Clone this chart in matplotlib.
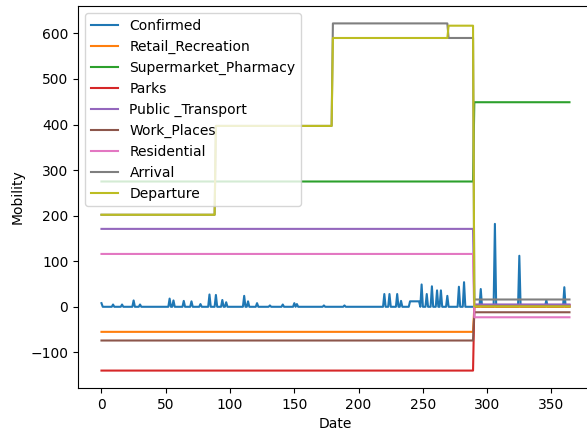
import matplotlib
matplotlib.use("Agg")
import matplotlib.pyplot as plt

N_DAYS = 365

# segment start days for the step-like mobility series
seg_starts = [0, 89, 180, 270, 290]

# one value per segment
mobility = {
    "Retail_Recreation": [-55, -55, -55, -55, 0],
    "Supermarket_Pharmacy": [275, 275, 275, 275, 449],
    "Parks": [-140, -140, -140, -140, 4],
    "Public _Transport": [171, 171, 171, 171, 5],
    "Work_Places": [-74, -74, -74, -74, -12],
    "Residential": [116, 116, 116, 116, -23],
    "Arrival": [202, 397, 622, 590, 16],
    "Departure": [202, 397, 590, 617, 1],
}

# confirmed cases: mostly zero with spikes on some days
spike_days = [0, 9, 16, 25, 30, 53, 56, 64, 70, 77, 84, 89, 94, 97, 111, 114,
              121, 131, 141, 150, 152, 173, 189, 220, 224, 230, 233, 240, 241,
              242, 243, 244, 245, 246, 247, 249, 253, 257, 261, 264, 269, 278,
              282, 295, 306, 325, 346, 360]
spike_vals = [8, 5, 5, 14, 5, 18, 14, 13, 12, 6, 27, 26, 15, 10, 24, 12,
              8, 3, 5, 8, 6, 3, 3, 28, 28, 28, 13, 12, 12,
              12, 12, 12, 12, 12, 12, 49, 28, 45, 36, 36, 24, 44,
              54, 39, 182, 112, 15, 43]

days = list(range(N_DAYS))

confirmed = [0] * N_DAYS
for d, v in zip(spike_days, spike_vals):
    confirmed[d] = v


def expand(values):
    out = []
    for d in days:
        idx = 0
        for i, s in enumerate(seg_starts):
            if d >= s:
                idx = i
        out.append(values[idx])
    return out


fig = plt.figure(figsize=(5.87, 4.32), dpi=100)
ax = fig.add_axes([0.133, 0.102, 0.877, 0.884])

ax.plot(days, confirmed, label="Confirmed")
for name, vals in mobility.items():
    ax.plot(days, expand(vals), label=name)

ax.set_xlabel("Date")
ax.set_ylabel("Mobility")
ax.legend(loc="upper left")

fig.savefig("out.png", dpi=100)
